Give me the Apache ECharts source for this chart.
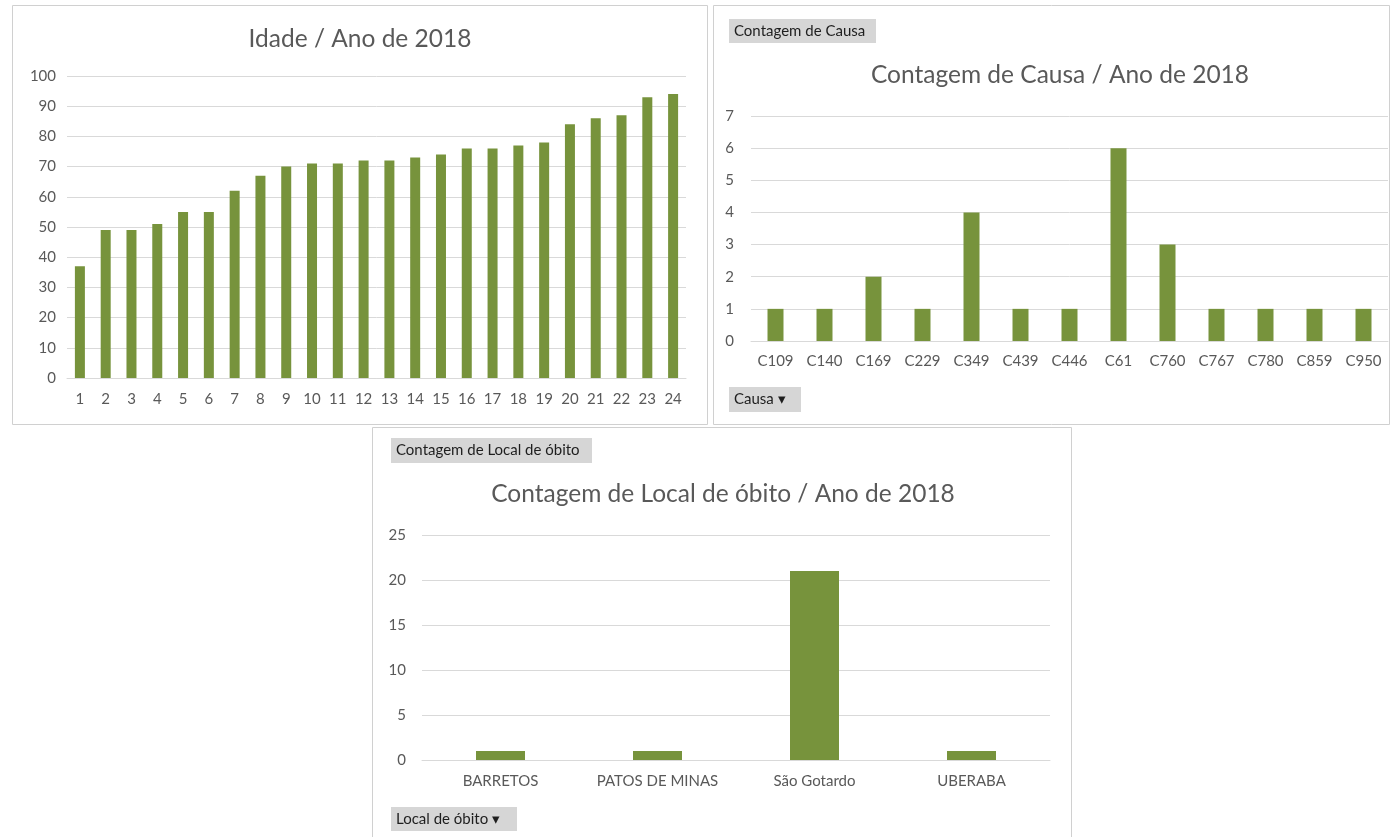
<!DOCTYPE html>
<html>
<head>
<meta charset="utf-8">
<script src="https://cdn.jsdelivr.net/npm/echarts@6/dist/echarts.min.js"></script>
<style>
  html, body { margin: 0; padding: 0; background: #fff; }
  #container { width: 1391px; height: 837px; }
</style>
</head>
<body>
<div id="container"></div>
<script>
var dom = document.getElementById("container");
var myChart = echarts.init(dom);

// idade
var idadeCats = ['1','2','3','4','5','6','7','8','9','10','11','12','13','14','15','16','17','18','19','20','21','22','23','24'];
var idadeVals = [37, 49, 49, 51, 55, 55, 62, 67, 70, 71, 71, 72, 72, 73, 74, 76, 76, 77, 78, 84, 86, 87, 93, 94];

// causa
var causaCats = ['C109','C140','C169','C229','C349','C439','C446','C61','C760','C767','C780','C859','C950'];
var causaVals = [1, 1, 2, 1, 4, 1, 1, 6, 3, 1, 1, 1, 1];

// local de obito
var localCats = ['BARRETOS','PATOS DE MINAS','São Gotardo','UBERABA'];
var localVals = [1, 1, 21, 1];

var green = '#77933c';
var txt = '#595959';
var gridLine = '#d9d9d9';
var font = 'Lato';

function yAxis(idx, max, step, margin) {
    return {
        type: 'value', gridIndex: idx, min: 0, max: max, interval: step,
        axisLine: {show: false}, axisTick: {show: false},
        splitLine: {lineStyle: {color: gridLine, width: 1}},
        axisLabel: {color: txt, fontSize: 15, fontFamily: font, margin: margin}
    };
}
function xAxis(idx, cats, margin) {
    return {
        type: 'category', gridIndex: idx, data: cats,
        axisLine: {lineStyle: {color: gridLine}}, axisTick: {show: false},
        axisLabel: {color: txt, fontSize: 15, fontFamily: font, margin: margin, interval: 0}
    };
}
function button(x, y, w, h, label) {
    return {
        type: 'group', left: x, top: y,
        children: [
            {type: 'rect', shape: {x: 0, y: 0, width: w, height: h}, style: {fill: '#d6d6d6'}},
            {type: 'text', x: 5, y: h / 2, style: {text: label, fill: '#1e1e1e', font: '15px ' + font, textVerticalAlign: 'middle'}}
        ]
    };
}
function panel(x, y, w, h) {
    return {type: 'rect', left: x, top: y, z: -10,
        shape: {width: w, height: h},
        style: {fill: '#fff', stroke: '#d0d0d0', lineWidth: 1}};
}

var titleStyle = {color: txt, fontSize: 24.5, fontWeight: 'normal', fontFamily: font};

option = {
    backgroundColor: '#fff',
    animation: false,
    title: [
        {text: 'Idade / Ano de 2018', left: 360, top: 27, textAlign: 'center', padding: 0, textStyle: titleStyle},
        {text: 'Contagem de Causa / Ano de 2018', left: 1060, top: 63, textAlign: 'center', padding: 0, textStyle: titleStyle},
        {text: 'Contagem de Local de óbito / Ano de 2018', left: 723, top: 482, textAlign: 'center', padding: 0, textStyle: titleStyle}
    ],
    grid: [
        {left: 67, top: 76, width: 619, height: 302},
        {left: 751, top: 116, width: 637, height: 225},
        {left: 422, top: 535, width: 628, height: 225}
    ],
    xAxis: [
        xAxis(0, idadeCats, 14),
        xAxis(1, causaCats, 13),
        xAxis(2, localCats, 14)
    ],
    yAxis: [
        yAxis(0, 100, 10, 11),
        yAxis(1, 7, 1, 17),
        yAxis(2, 25, 5, 16)
    ],
    series: [
        {type: 'bar', xAxisIndex: 0, yAxisIndex: 0, data: idadeVals, barWidth: 10, itemStyle: {color: green}},
        {type: 'bar', xAxisIndex: 1, yAxisIndex: 1, data: causaVals, barWidth: 16, itemStyle: {color: green}},
        {type: 'bar', xAxisIndex: 2, yAxisIndex: 2, data: localVals, barWidth: 49, itemStyle: {color: green}}
    ],
    graphic: [
        panel(12, 5, 695, 419),
        panel(713, 5, 676, 419),
        panel(372, 427, 699, 420),
        button(729, 19, 147, 24, 'Contagem de Causa'),
        button(729, 387, 72, 25, 'Causa ▾'),
        button(391, 438, 201, 25, 'Contagem de Local de óbito'),
        button(391, 807, 126, 24, 'Local de óbito ▾')
    ]
};

if (option && typeof option === "object") {
    myChart.setOption(option, true);
}
</script>
</body>
</html>
